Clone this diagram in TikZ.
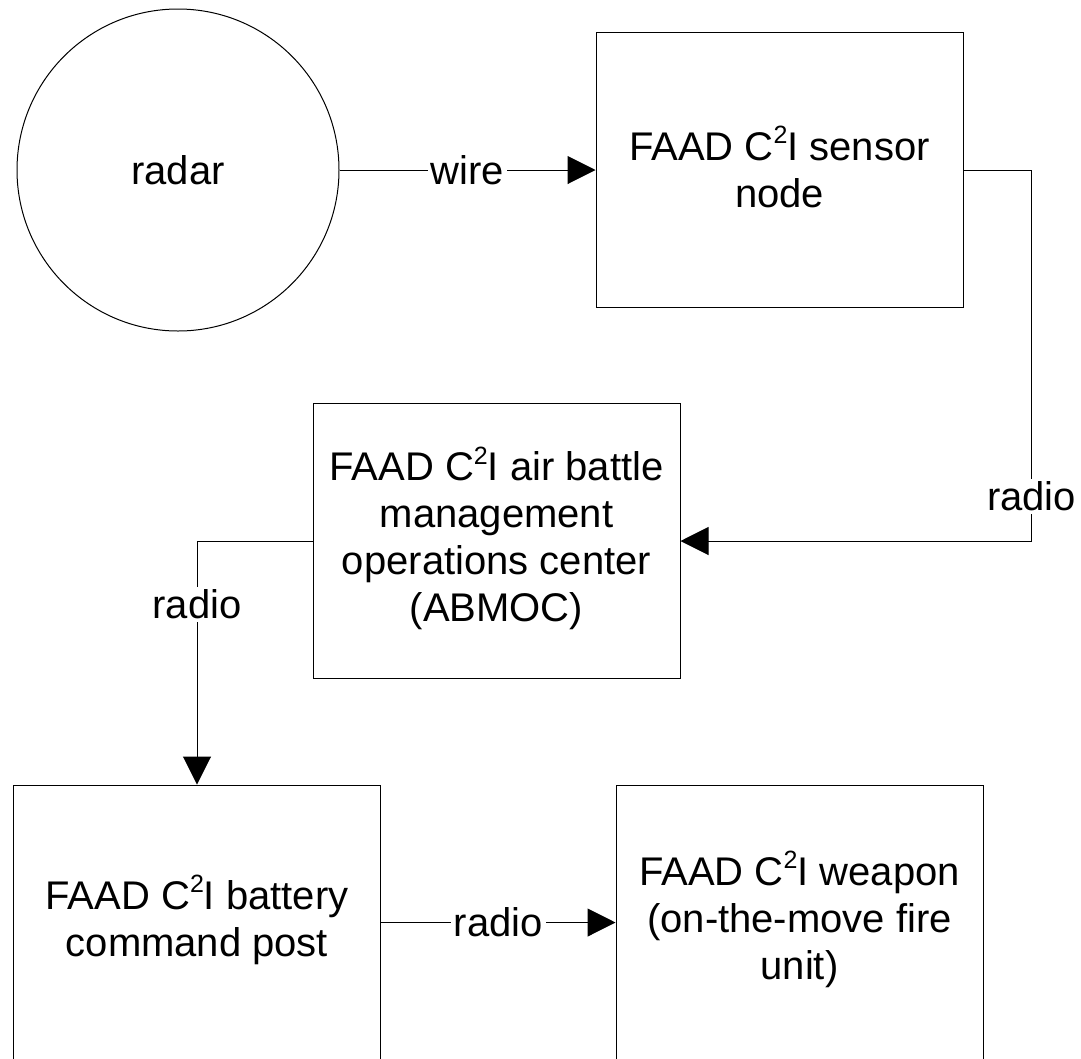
\documentclass[tikz,border=0pt]{standalone}
\usepackage{fontspec}
\setmainfont{Liberation Sans}
\usetikzlibrary{arrows.meta}
\newcommand{\CtwoI}{C\raisebox{0.42em}[0pt][0pt]{\fontsize{25}{25}\selectfont 2}I}

\begin{document}
\begin{tikzpicture}[x=1pt,y=-1pt,line width=1pt,
  every node/.style={font=\fontsize{40}{47}\selectfont},
  blk/.style={draw,minimum width=367pt,minimum height=275pt,align=center,inner sep=0pt},
  lbl/.style={fill=white,inner sep=3pt},
  >={Triangle[length=28pt,width=28pt]}]
\useasboundingbox (0,0) rectangle (1081,1058);
\clip (0,0) rectangle (1081,1058);
\node [draw,circle,minimum size=322pt,inner sep=0pt] (n00) at (178,170) {radar};
\node [blk] (n01) at (779.5,170) {FAAD \CtwoI{} sensor\\node};
\node [blk] (n10) at (496.5,541) {FAAD \CtwoI{} air battle\\management\\operations center\\(ABMOC)};
\node [blk] (n20) at (197,922.5) {FAAD \CtwoI{} battery\\command post};
\node [blk] (n21) at (799.5,922.5) {FAAD \CtwoI{} weapon\\(on-the-move fire\\unit)};
\draw [->] (n00) to node [lbl] {wire} (n01);
\draw [->] (n01.east) -- ++(68,0) |- node [lbl,pos=0.44] {radio} (n10.east);
\draw [->] (n10.west) -| node [lbl,pos=0.63] {radio} (n20.north);
\draw [->] (n20) to node [lbl] {radio} (n21);
\end{tikzpicture}
\end{document}
